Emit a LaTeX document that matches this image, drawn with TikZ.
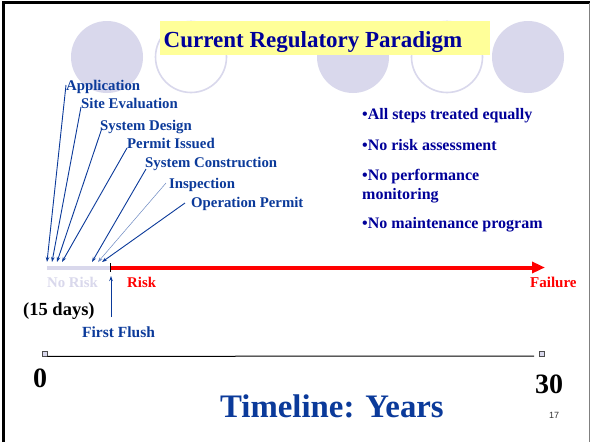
\documentclass[tikz,border=0pt]{standalone}
\usepackage{fontspec}
\setmainfont{Liberation Serif}
\newfontfamily\sansf{Liberation Sans}
\usetikzlibrary{arrows.meta}
\definecolor{lav}{HTML}{D9D8EC}
\definecolor{navyt}{HTML}{000099}
\definecolor{lblue}{HTML}{0B3A9A}
\definecolor{ylw}{HTML}{FFFF99}
\definecolor{rd}{HTML}{FF0000}
\begin{document}
\begin{tikzpicture}[x=1pt,y=-1pt,
  steptxt/.style={inner sep=0pt,anchor=base west,text=lblue,font=\bfseries\fontsize{14.8}{16}\selectfont},
  bullettxt/.style={inner sep=0pt,anchor=base west,text=navyt,font=\bfseries\fontsize{16}{18}\selectfont},
  conn/.style={lblue,line width=0.9pt,-{Stealth[length=5pt,width=3.5pt]}},
  fillcirc/.style={fill=lav},
  ringcirc/.style={draw=lav,line width=1.6pt},
  endsq/.style={draw=black!70,fill=lav,line width=0.8pt,minimum size=5pt,inner sep=0pt}]
\fill[white] (0,0) rectangle (592,442);
\useasboundingbox (0,0) rectangle (592,442);
% frame
\draw[line width=3pt] (3.5,442) -- (3.5,2.5) -- (590,2.5);
\draw[gray,line width=1pt] (589.5,2.5) -- (589.5,442);
% decorative circles
\fill[fillcirc] (107,57) circle (36pt);
\draw[ringcirc] (191,57) circle (35.5pt);
\fill[fillcirc] (353,57) circle (36pt);
\draw[ringcirc] (447,57) circle (35.5pt);
\fill[fillcirc] (528,57) circle (36pt);
% title
\node[fill=ylw,minimum width=330pt,minimum height=34pt,inner sep=0pt,anchor=north west] (titlebox) at (160,21) {};
\node[inner sep=0pt,anchor=base,text=navyt,font=\bfseries\fontsize{23}{25}\selectfont] (title) at (313,47) {Current Regulatory Paradigm};
% step labels
\node[steptxt] (app) at (66,90) {Application};
\node[steptxt] (site) at (81,108) {Site Evaluation};
\node[steptxt] (sysd) at (100,130) {System Design};
\node[steptxt] (perm) at (127,148) {Permit Issued};
\node[steptxt] (sysc) at (145,167) {System Construction};
\node[steptxt] (insp) at (169,188) {Inspection};
\node[steptxt] (oper) at (191,207) {Operation Permit};
% arrow targets
\coordinate (t1) at (47,262);
\coordinate (t2) at (52,262);
\coordinate (t3) at (57,262);
\coordinate (t4) at (62,262);
\coordinate (t5) at (92,262);
\coordinate (t6) at (98,262);
\coordinate (t7) at (102,262);
\draw[conn] ([yshift=5pt]app.base west) -- (t1);
\draw[conn] ([yshift=1pt]site.base west) -- (t2);
\draw[conn] ([xshift=2pt,yshift=2pt]sysd.base west) -- (t3);
\draw[conn] (perm.base west) -- (t4);
\draw[conn] ([xshift=1pt,yshift=-2pt]sysc.base west) -- (t5);
\draw[lblue!60,line width=0.5pt,-{Stealth[length=5pt,width=3.5pt]}] ([xshift=-3pt,yshift=5pt]insp.base west) -- (t6);
\draw[conn] ([xshift=-6pt,yshift=4pt]oper.base west) -- (t7);
% timeline
\coordinate (nr0) at (47,267.5);
\coordinate (tick) at (110.5,267.5);
\coordinate (failtip) at (545,267.5);
\draw[lav,line width=4pt] (nr0) -- (tick);
\draw[rd,line width=4pt,-{Triangle[length=13pt,width=11pt]}] (tick) -- (failtip);
\draw[black,line width=1.5pt] (110.5,263) -- (110.5,272);
\node[inner sep=0pt,anchor=base west,text=lav,font=\bfseries\fontsize{14.8}{16}\selectfont] (norisk) at (47,287) {No Risk};
\node[inner sep=0pt,anchor=base west,text=rd,font=\bfseries\fontsize{14.8}{16}\selectfont] (risk) at (127,287) {Risk};
\node[inner sep=0pt,anchor=base west,text=rd,font=\bfseries\fontsize{15}{16}\selectfont] (fail) at (530,287) {Failure};
% first flush
\node[inner sep=0pt,anchor=base west,text=black,font=\bfseries\fontsize{18.5}{20}\selectfont] (days) at (23,315) {(15 days)};
\node[inner sep=0pt,anchor=base west,text=lblue,font=\bfseries\fontsize{15.5}{17}\selectfont] (ff) at (82,337.5) {First Flush};
\coordinate (ffbot) at (111,317);
\coordinate (fftop) at (111,276);
\draw[lblue,line width=1pt,-{Stealth[length=5pt,width=3.5pt]}] (ffbot) -- (fftop);
% axis
\node[endsq] (sq0) at (44.5,353.5) {};
\node[endsq] (sq30) at (542,353.5) {};
\coordinate (axend) at (534,356);
\draw[black,line width=1pt] (sq0.south east) -- (axend);
\node[inner sep=0pt,anchor=base west,text=black,font=\bfseries\fontsize{28}{30}\selectfont] (zero) at (33,387) {0};
\node[inner sep=0pt,anchor=base west,text=black,font=\bfseries\fontsize{28}{30}\selectfont] (thirty) at (535,393) {30};
\node[inner sep=0pt,anchor=base west,text=lblue,font=\bfseries\fontsize{32.8}{34}\selectfont] (tl) at (220,417) {Timeline: Years};
\node[inner sep=0pt,anchor=base west,text=black!80,font=\sansf\fontsize{9}{10}\selectfont] (pg) at (549,418) {17};
% bullets
\node[bullettxt] (b1) at (362,119) {•All steps treated equally};
\node[bullettxt] (b2) at (362,150.7) {•No risk assessment};
\node[bullettxt] (b3) at (362,180.7) {•No performance};
\node[bullettxt] (b3b) at (362,199) {monitoring};
\node[bullettxt] (b4) at (362,228) {•No maintenance program};
\end{tikzpicture}
\end{document}
